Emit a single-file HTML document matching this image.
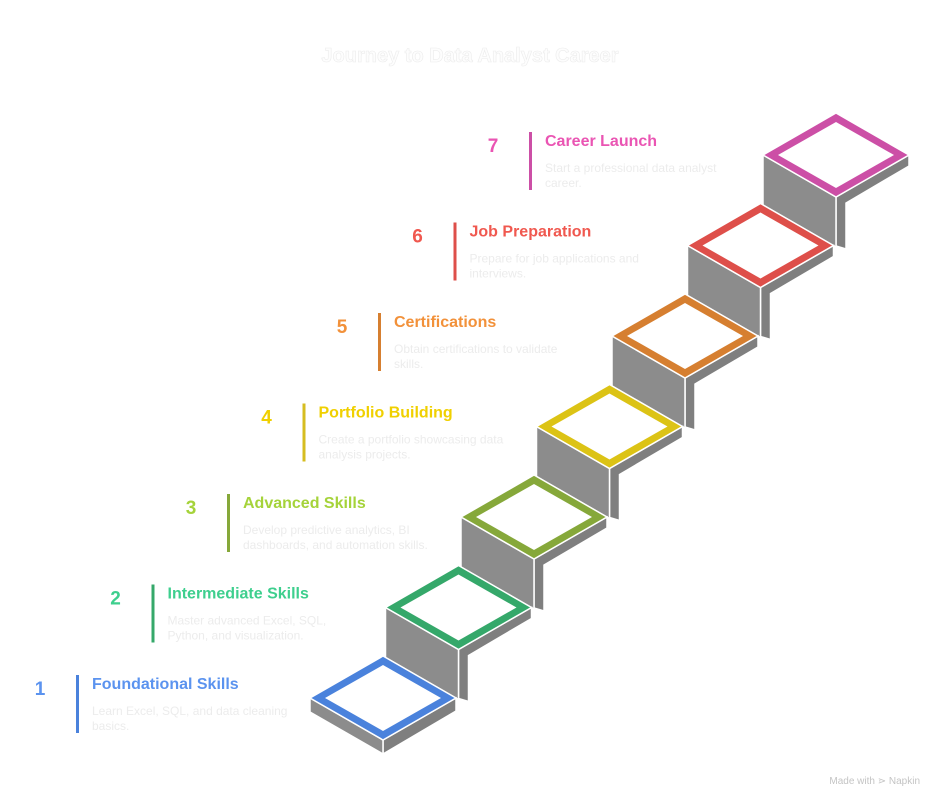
<!DOCTYPE html>
<html><head><meta charset="utf-8"><style>
html,body{margin:0;padding:0;background:#fff;}
body{width:941px;height:804px;overflow:hidden;font-family:"Liberation Sans",sans-serif;}
</style></head><body>
<svg width="941" height="804" viewBox="0 0 941 804" xmlns="http://www.w3.org/2000/svg" font-family="Liberation Sans, sans-serif">
<rect width="941" height="804" fill="#fff"/>
<text x="470" y="62" text-anchor="middle" font-size="20" font-weight="bold" fill="#fdfdfd" stroke="#ececec" stroke-width="0.6">Journey to Data Analyst Career</text>

<defs>
<g id="riser">
<polygon points="383,740 456,698 456,709 393,746 393,792 383,789" fill="#7f7f7f" stroke="#fff" stroke-width="1.5"/>
<polygon points="310,698 383,740 383,790 310,748" fill="#8c8c8c" stroke="#fff" stroke-width="1.5"/>
</g>
</defs>

<g transform="translate(453,-543)"><use href="#riser"/><polygon points="310,698 383,656 456,698 383,740" fill="#cc4fa6" stroke="#fff" stroke-width="1.5"/><polygon points="325,698 383,665 441,698 383,731" fill="#fff"/></g>
<g transform="translate(377.5,-452.5)"><use href="#riser"/><polygon points="310,698 383,656 456,698 383,740" fill="#de4f4a" stroke="#fff" stroke-width="1.5"/><polygon points="325,698 383,665 441,698 383,731" fill="#fff"/></g>
<g transform="translate(302,-362)"><use href="#riser"/><polygon points="310,698 383,656 456,698 383,740" fill="#d67f30" stroke="#fff" stroke-width="1.5"/><polygon points="325,698 383,665 441,698 383,731" fill="#fff"/></g>
<g transform="translate(226.5,-271.5)"><use href="#riser"/><polygon points="310,698 383,656 456,698 383,740" fill="#dcc315" stroke="#fff" stroke-width="1.5"/><polygon points="325,698 383,665 441,698 383,731" fill="#fff"/></g>
<g transform="translate(151,-181)"><use href="#riser"/><polygon points="310,698 383,656 456,698 383,740" fill="#86a83a" stroke="#fff" stroke-width="1.5"/><polygon points="325,698 383,665 441,698 383,731" fill="#fff"/></g>
<g transform="translate(75.5,-90.5)"><use href="#riser"/><polygon points="310,698 383,656 456,698 383,740" fill="#35a86a" stroke="#fff" stroke-width="1.5"/><polygon points="325,698 383,665 441,698 383,731" fill="#fff"/></g>
<g>
<polygon points="383,740 456,698 456,711 383,754" fill="#7f7f7f" stroke="#fff" stroke-width="1.5"/>
<polygon points="310,698 383,740 383,754 310,712" fill="#8c8c8c" stroke="#fff" stroke-width="1.5"/>
<polygon points="310,698 383,656 456,698 383,740" fill="#4a82dc" stroke="#fff" stroke-width="1.5"/><polygon points="325,698 383,665 441,698 383,731" fill="#fff"/></g>

<g font-size="12" fill="#ececec">
<g>
<text x="40" y="695" text-anchor="middle" font-size="19" font-weight="bold" fill="#5b93ef">1</text>
<rect x="76" y="675" width="3" height="58" fill="#4a82dc"/>
<text x="92" y="689" font-size="16" font-weight="bold" fill="#5b93ef">Foundational Skills</text>
<text x="92" y="715">Learn Excel, SQL, and data cleaning</text><text x="92" y="730">basics.</text>
</g>
<g transform="translate(75.5,-90.5)">
<text x="40" y="695" text-anchor="middle" font-size="19" font-weight="bold" fill="#3ecf8e">2</text>
<rect x="76" y="675" width="3" height="58" fill="#35a86a"/>
<text x="92" y="689" font-size="16" font-weight="bold" fill="#3ecf8e">Intermediate Skills</text>
<text x="92" y="715">Master advanced Excel, SQL,</text><text x="92" y="730">Python, and visualization.</text>
</g>
<g transform="translate(151,-181)">
<text x="40" y="695" text-anchor="middle" font-size="19" font-weight="bold" fill="#a5d33a">3</text>
<rect x="76" y="675" width="3" height="58" fill="#86a83a"/>
<text x="92" y="689" font-size="16" font-weight="bold" fill="#a5d33a">Advanced Skills</text>
<text x="92" y="715">Develop predictive analytics, BI</text><text x="92" y="730">dashboards, and automation skills.</text>
</g>
<g transform="translate(226.5,-271.5)">
<text x="40" y="695" text-anchor="middle" font-size="19" font-weight="bold" fill="#f0d000">4</text>
<rect x="76" y="675" width="3" height="58" fill="#d6bd20"/>
<text x="92" y="689" font-size="16" font-weight="bold" fill="#f0d000">Portfolio Building</text>
<text x="92" y="715">Create a portfolio showcasing data</text><text x="92" y="730">analysis projects.</text>
</g>
<g transform="translate(302,-362)">
<text x="40" y="695" text-anchor="middle" font-size="19" font-weight="bold" fill="#f2913a">5</text>
<rect x="76" y="675" width="3" height="58" fill="#d67f30"/>
<text x="92" y="689" font-size="16" font-weight="bold" fill="#f2913a">Certifications</text>
<text x="92" y="715">Obtain certifications to validate</text><text x="92" y="730">skills.</text>
</g>
<g transform="translate(377.5,-452.5)">
<text x="40" y="695" text-anchor="middle" font-size="19" font-weight="bold" fill="#f0584f">6</text>
<rect x="76" y="675" width="3" height="58" fill="#de4f4a"/>
<text x="92" y="689" font-size="16" font-weight="bold" fill="#f0584f">Job Preparation</text>
<text x="92" y="715">Prepare for job applications and</text><text x="92" y="730">interviews.</text>
</g>
<g transform="translate(453,-543)">
<text x="40" y="695" text-anchor="middle" font-size="19" font-weight="bold" fill="#ea55b3">7</text>
<rect x="76" y="675" width="3" height="58" fill="#cc4fa6"/>
<text x="92" y="689" font-size="16" font-weight="bold" fill="#ea55b3">Career Launch</text>
<text x="92" y="715">Start a professional data analyst</text><text x="92" y="730">career.</text>
</g>
</g>

<text x="920" y="784" text-anchor="end" font-size="10" fill="#c4c4c4">Made with ⋗ Napkin</text>
</svg>
</body></html>
